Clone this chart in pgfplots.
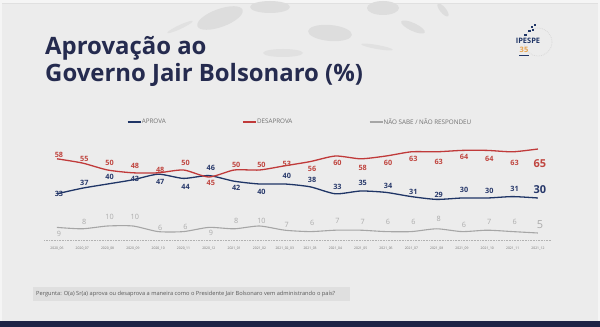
\documentclass[border=0pt]{standalone}
\usepackage{fontspec}
\setmainfont{Open Sans}
\usepackage{pgfplots}
\usepackage{pgfplotstable}
\pgfplotsset{compat=1.18}
\definecolor{bg}{HTML}{ECECEC}
\definecolor{frame}{HTML}{F5F5F5}
\definecolor{blob}{HTML}{DDDDDD}
\definecolor{titlenavy}{HTML}{252B4F}
\definecolor{navyline}{HTML}{1F3566}
\definecolor{navytext}{HTML}{27386A}
\definecolor{redline}{HTML}{C03A3A}
\definecolor{redtext}{HTML}{C0453F}
\definecolor{grayline}{HTML}{A6A6A6}
\definecolor{graytext}{HTML}{ABABAB}
\definecolor{legtext}{HTML}{707070}
\definecolor{qbox}{HTML}{DFDFDF}
\definecolor{bottombar}{HTML}{1E2446}
\definecolor{logoorange}{HTML}{E8A24A}

% columns: x, value, label shift (bp) for each series
\pgfplotstableread{
x a ay d dy n ny
0 33 0 58 4 9 -7
1 37 5 55 4 8 7
2 40 7 50 7 10 9
3 43 1 48 7 10 9
4 47 -8 48 3 6 4
5 44 -9 50 7 6 5
6 46 8 45 -6 9 -6
7 42 -7 50 5 8 8
8 40 -8 50 5 10 5
9 40 8 53 2 7 5
10 38 7 56 -7 6 9
11 33 7 60 -7 7 9
12 35 8 58 -9 7 8
13 34 6 60 -7 6 10
14 31 5 63 -7 6 10
15 29 4 63 -10 8 10
16 30 8 64 -7 6 7
17 30 7 64 -9 7 8
18 31 8 63 -11 6 10
19 30 8 65 -15 5 8
}\data

\begin{document}
\begin{tikzpicture}
\path[use as bounding box, fill=frame] (0,0) rectangle (600bp,327bp);
\begin{scope}[x=1bp,y=-1bp,shift={(0bp,327bp)}]
  \fill[bg] (2,3) rectangle (598,321);
  \draw[black!12, line width=0.6bp] (2,3) -- (598,3);
  % decorative blobs
  \fill[blob, rotate around={20:(220,18)}] (220,18) ellipse (24 and 9);
  \fill[blob] (270,7) ellipse (20 and 6);
  \fill[blob, rotate around={-5:(330,33)}] (330,33) ellipse (22 and 8);
  \fill[blob] (383,8) ellipse (16 and 7);
  \fill[blob, rotate around={-25:(413,27)}] (413,27) ellipse (13 and 4);
  \fill[blob, rotate around={-50:(443,10)}] (443,10) ellipse (8 and 3);
  \fill[blob!70!bg] (283,53) ellipse (20 and 4);
  \fill[blob!70!bg, rotate around={-10:(377,47)}] (377,47) ellipse (16 and 2);
  \fill[blob!70!bg, rotate around={25:(180,27)}] (180,27) ellipse (14 and 2);
  % bottom bar
  \fill[bottombar] (0,321) rectangle (600,327);
  % question box
  \fill[qbox] (33,287) rectangle (350,301);
  \node[anchor=west, inner sep=0pt, font=\fontsize{5.7}{6.5}\selectfont, text=black!65] at (36,294)
    {Pergunta: O(a) Sr(a) aprova ou desaprova a maneira como o Presidente Jair Bolsonaro vem administrando o país?};
  % title
  \node[anchor=base west, inner sep=0pt, font=\fontsize{24}{28}\selectfont\bfseries, text=titlenavy] at (45,55) {Aprovação ao};
  \node[anchor=base west, inner sep=0pt, font=\fontsize{24}{28}\selectfont\bfseries, text=titlenavy] at (45,82) {Governo Jair Bolsonaro (\%)};
  % logo
  \draw[black!15, densely dotted, line width=0.8bp] (538,42) circle (14);
  \fill[navyline] (531,26) rectangle (533,28);
  \fill[navyline] (534,24) rectangle (536,26);
  \fill[navyline] (528,30) rectangle (531,32);
  \fill[navyline] (532,29) rectangle (534,31);
  \fill[navyline] (524,34) rectangle (527,36);
  \node[inner sep=0pt, font=\fontsize{7.5}{8}\selectfont\bfseries, text=navyline] at (528,41) {IPESPE};
  \node[inner sep=0pt, font=\fontsize{7.5}{8}\selectfont\bfseries, text=logoorange] at (524,50) {35};
  \fill[navyline] (519,55) rectangle (529,56);
\end{scope}

\begin{axis}[
  at={(44.3bp,87bp)}, anchor=south west,
  scale only axis, width=506.3bp, height=98bp,
  xmin=-0.5, xmax=19.5, ymin=0, ymax=70,
  axis x line*=bottom, axis y line=none,
  x axis line style={draw=black!30, densely dotted, line width=0.6bp, -},
  xtick={0,...,19}, major tick length=0pt,
  xticklabels={2020\_06,2020\_07,2020\_08,2020\_09,2020\_10,2020\_11,2020\_12,2021\_01,2021\_02,2021\_02\_03,2021\_03,2021\_04,2021\_05,2021\_06,2021\_07,2021\_08,2021\_09,2021\_10,2021\_11,2021\_12},
  xticklabel style={font=\fontsize{3.4}{4}\selectfont, text=black!55, yshift=-4bp},
  clip=false,
  /pgf/number format/assume math mode=true,
  legend columns=3,
  legend cell align=left,
  legend image code/.code={\draw[#1] (0bp,0bp) -- (13bp,0bp);},
  legend style={at={(0.163,1.204)}, anchor=west, draw=none, fill=none,
    font=\fontsize{6.3}{7}\selectfont, text=legtext, inner sep=0pt,
    nodes={inner sep=0.5bp},
    /tikz/every even column/.append style={column sep=76bp}},
]
\addplot[navyline, line width=1.3bp, smooth, tension=0.4] table[x=x,y=a]{\data};
\addlegendentry{APROVA}
\addplot[redline, line width=1.3bp, smooth, tension=0.4] table[x=x,y=d]{\data};
\addlegendentry{DESAPROVA}
\addplot[grayline, line width=1.1bp, smooth, tension=0.4] table[x=x,y=n]{\data};
\addlegendentry{NÃO SABE / NÃO RESPONDEU}

% labels
\addplot[draw=none, forget plot, nodes near coords, point meta=explicit,
  visualization depends on={\thisrow{ay}\as\ys},
  nodes near coords style={anchor=center, font=\fontsize{7.3}{8}\selectfont\bfseries, text=navytext, inner sep=0pt, xshift=2bp, yshift=\ys bp},
  skip coords between index={19}{20}] table[x=x,y=a,meta=a]{\data};
\addplot[draw=none, forget plot, nodes near coords, point meta=explicit,
  visualization depends on={\thisrow{dy}\as\ys},
  nodes near coords style={anchor=center, font=\fontsize{7.3}{8}\selectfont\bfseries, text=redtext, inner sep=0pt, xshift=2bp, yshift=\ys bp},
  skip coords between index={19}{20}] table[x=x,y=d,meta=d]{\data};
\addplot[draw=none, forget plot, nodes near coords, point meta=explicit,
  visualization depends on={\thisrow{ny}\as\ys},
  nodes near coords style={anchor=center, font=\fontsize{7.3}{8}\selectfont, text=graytext, inner sep=0pt, xshift=2bp, yshift=\ys bp},
  skip coords between index={19}{20}] table[x=x,y=n,meta=n]{\data};
% last, larger labels
\addplot[draw=none, forget plot, nodes near coords, point meta=explicit,
  visualization depends on={\thisrow{ay}\as\ys},
  nodes near coords style={anchor=center, font=\fontsize{11}{12}\selectfont\bfseries, text=navytext, inner sep=0pt, xshift=2bp, yshift=\ys bp},
  skip coords between index={0}{19}] table[x=x,y=a,meta=a]{\data};
\addplot[draw=none, forget plot, nodes near coords, point meta=explicit,
  visualization depends on={\thisrow{dy}\as\ys},
  nodes near coords style={anchor=center, font=\fontsize{11}{12}\selectfont\bfseries, text=redtext, inner sep=0pt, xshift=2bp, yshift=\ys bp},
  skip coords between index={0}{19}] table[x=x,y=d,meta=d]{\data};
\addplot[draw=none, forget plot, nodes near coords, point meta=explicit,
  visualization depends on={\thisrow{ny}\as\ys},
  nodes near coords style={anchor=center, font=\fontsize{11}{12}\selectfont, text=graytext, inner sep=0pt, xshift=2bp, yshift=\ys bp},
  skip coords between index={0}{19}] table[x=x,y=n,meta=n]{\data};
\end{axis}
\end{tikzpicture}
\end{document}
